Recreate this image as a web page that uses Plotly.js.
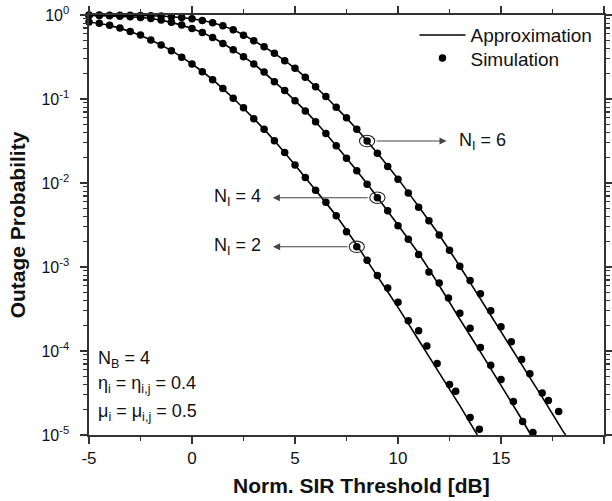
<!DOCTYPE html>
<html><head><meta charset="utf-8">
<script src="https://cdn.plot.ly/plotly-3.0.1.min.js"></script>
<style>body{margin:0;background:#fff}#chart{width:612px;height:501px}</style>
</head><body><div id="chart"></div>
<script>
// Simulation points (x in dB, outage probability)
const simX2 = [-5,-4.5,-4,-3.5,-3,-2.5,-2,-1.5,-1,-0.5,0,0.5,1,1.5,2,2.5,3,3.5,4,4.5,5,5.5,6,6.5,7,7.5,8,8.5,9,9.5,10,10.5,11,11.4,11.9,12.5,12.8,13.5,13.95];
const simP2 = [0.826,0.796,0.753,0.700,0.634,0.578,0.504,0.440,0.376,0.313,
  0.261,0.211,0.170,0.133,0.102,0.0785,0.0583,0.0436,0.0319,0.0230,
  0.0164,0.0116,0.00822,0.00589,0.00407,0.00263,0.00174,0.00120,7.94e-4,5.62e-4,
  3.80e-4,2.29e-4,1.74e-4,1.15e-4,7.08e-5,3.98e-5,3.31e-5,1.62e-5,1.17e-5];

const simX4 = [-5,-4.5,-4,-3.5,-3,-2.5,-2,-1.5,-1,-0.5,0,0.5,1,1.5,2,2.5,3,3.5,4,4.5,5,5.5,6,6.5,7,7.5,8,8.5,9,9.5,10,10.5,11,11.5,12.0,12.45,13.0,13.5,14.0,14.5,15.0,15.6,16.05,16.55];
const simP4 = [0.989,0.984,0.977,0.968,0.955,0.936,0.910,0.871,0.817,0.759,
  0.689,0.617,0.540,0.457,0.385,0.319,0.261,0.209,0.161,0.126,
  0.0955,0.0719,0.0537,0.0389,0.0278,0.0197,0.0140,0.00966,0.00668,0.00468,
  0.00309,0.00214,0.00141,8.71e-4,
  6.46e-4,4.27e-4,2.82e-4,1.86e-4,1.10e-4,6.76e-5,4.57e-5,2.51e-5,1.45e-5,1.07e-5];

const simX6 = [-5,-4.5,-4,-3.5,-3,-2.5,-2,-1.5,-1,-0.5,0,0.5,1,1.5,2,2.5,3,3.5,4,4.5,5,5.5,6,6.5,7,7.5,8,8.5,9,9.5,10,10.5,11,11.5,12,12.5,13,13.5,14,14.5,15,15.5,16.0,16.4,17.0,17.3,17.8];
const simP6 = [0.998,0.997,0.995,0.993,0.991,0.986,0.979,0.970,0.955,0.933,
  0.902,0.861,0.809,0.745,0.668,0.575,0.495,0.420,0.350,0.286,
  0.232,0.181,0.140,0.107,0.0796,0.0600,0.0437,0.0316,0.0226,0.0157,
  0.0111,0.00759,0.00513,0.00355,0.00240,0.00158,0.00102,6.92e-4,4.79e-4,3.02e-4,
  1.95e-4,1.29e-4,
  7.94e-5,5.37e-5,3.16e-5,2.57e-5,1.91e-5];

// Approximation curves
const apxX2 = [-5,-4,-3,-2,-1,0,1,2,3,4,5,6,7,8,9,10,11,12,13,13.85];
const apxP2 = [0.826,0.753,0.634,0.504,0.376,0.261,0.170,0.102,0.0583,0.0319,0.0164,0.00822,0.00407,0.00182,7.76e-4,3.31e-4,1.35e-4,5.50e-5,2.24e-5,1.0e-5];
const apxX4 = [-5,-4,-3,-2,-1,0,1,2,3,4,5,6,7,8,9,10,11,12,13,14,15,16,16.45];
const apxP4 = [0.989,0.977,0.955,0.910,0.817,0.689,0.540,0.385,0.261,0.161,0.0955,0.0537,0.0278,0.0140,0.00676,0.00316,0.00145,6.03e-4,2.40e-4,9.77e-5,3.89e-5,1.55e-5,1.0e-5];
const apxX6 = [-5,-4,-3,-2,-1,0,1,2,3,4,5,6,7,8,9,10,11,12,13,14,15,16,17,18,18.14];
const apxP6 = [0.998,0.995,0.991,0.979,0.955,0.902,0.809,0.668,0.495,0.350,0.232,0.140,0.0796,0.0437,0.0226,0.0112,0.00525,0.00240,0.00102,4.17e-4,1.70e-4,6.92e-5,2.82e-5,1.12e-5,1.0e-5];

const xTicks = [-5,0,5,10,15,20];
const xTickText = ['-5','0','5','10','15','20'];
const yTicks = [1e-5,1e-4,1e-3,1e-2,1e-1,1];
const yTickText = ['10<sup>-5</sup>','10<sup>-4</sup>','10<sup>-3</sup>','10<sup>-2</sup>','10<sup>-1</sup>','10<sup>0</sup>'];

// labelled curves and index of the circled simulation point
const labels = ['N<sub>I</sub> = 2','N<sub>I</sub> = 4','N<sub>I</sub> = 6'];
const circled = [26, 28, 27];

const FONT = 'Arial, "Liberation Sans", Helvetica, sans-serif';
const INK = '#111';

const lineStyle = {color: '#000', width: 1.6, shape: 'spline', smoothing: 0.6};
const mk = {color: '#000', size: 7.5};

const traces = [
  {x: apxX2, y: apxP2, mode: 'lines', line: lineStyle, name: 'Approximation', legend: 'legend', showlegend: true},
  {x: apxX4, y: apxP4, mode: 'lines', line: lineStyle, name: 'Approximation', showlegend: false},
  {x: apxX6, y: apxP6, mode: 'lines', line: lineStyle, name: 'Approximation', showlegend: false},
  {x: simX2, y: simP2, mode: 'markers', marker: mk, name: 'Simulation', legend: 'legend2', showlegend: true, cliponaxis: false},
  {x: simX4, y: simP4, mode: 'markers', marker: mk, name: 'Simulation', showlegend: false, cliponaxis: false},
  {x: simX6, y: simP6, mode: 'markers', marker: mk, name: 'Simulation', showlegend: false, cliponaxis: false}
];

// ellipse half sizes (dB, decades)
const ELL_W = 0.37, ELL_H = 0.068;
const sims = [[simX2, simP2], [simX4, simP4], [simX6, simP6]];
const shapes = [];
sims.forEach((s, k) => {
  const i = circled[k];
  const cx = s[0][i], cp = s[1][i];
  shapes.push({type: 'circle', xref: 'x', yref: 'y',
    x0: cx - ELL_W, x1: cx + ELL_W, y0: cp * Math.pow(10, -ELL_H), y1: cp * Math.pow(10, ELL_H),
    line: {color: '#222', width: 1.1}});
});

const ann = [];
// arrows: [curve index, arrow head x, arrow tail x]
const arrows = [[0, 3.93, 7.62], [1, 3.92, 8.6], [2, 12.36, 8.89]];
arrows.forEach(a => {
  const k = a[0];
  const yl = Math.log10(sims[k][1][circled[k]]);
  ann.push({x: a[1], y: yl, ax: a[2], ay: yl, axref: 'x', ayref: 'y', xref: 'x', yref: 'y',
    text: '', showarrow: true, arrowhead: 2, arrowsize: 1.3, arrowwidth: 1.1, arrowcolor: '#444',
    standoff: 0, startstandoff: 0});
});
// label texts
const labPos = [[3.45, 'right'], [3.45, 'right'], [12.85, 'left']];
labPos.forEach((p, k) => {
  const yl = Math.log10(sims[k][1][circled[k]]);
  ann.push({x: p[0], y: yl, xref: 'x', yref: 'y', xanchor: p[1], yanchor: 'middle',
    text: labels[k], showarrow: false, font: {family: FONT, size: 18, color: INK}});
});
// parameter block
const params = ['N<sub>B</sub> = 4', '&#951;<sub>i</sub> = &#951;<sub>i,j</sub> = 0.4', '&#956;<sub>i</sub> = &#956;<sub>i,j</sub> = 0.5'];
const paramY = [-4.1, -4.4, -4.73];
params.forEach((t, i) => {
  ann.push({x: -4.68, y: paramY[i], xref: 'x', yref: 'y', xanchor: 'left', yanchor: 'middle',
    text: t, showarrow: false, font: {family: FONT, size: 18, color: INK}});
});
// x-axis title
ann.push({x: 0.53, y: -0.12, xref: 'paper', yref: 'paper', xanchor: 'center', yanchor: 'middle',
  text: '<b>Norm. SIR Threshold [dB]</b>', showarrow: false, font: {family: FONT, size: 21, color: INK}});

const minorY = [];
for (let e = -5; e < 0; e++) for (let m = 2; m <= 9; m++) minorY.push(m * Math.pow(10, e));

const axCommon = {showline: true, linecolor: '#333', linewidth: 1.6, mirror: 'ticks', ticks: 'outside',
  tickcolor: '#333', tickwidth: 1.3, showgrid: false, zeroline: false};

const legBase = {xanchor: 'left', yanchor: 'middle', bgcolor: 'rgba(0,0,0,0)',
  font: {family: FONT, size: 19, color: INK}, itemwidth: 46};

const layout = {
  width: 612, height: 501,
  margin: {l: 89, r: 8, t: 15, b: 66},
  paper_bgcolor: '#fff', plot_bgcolor: '#fff',
  font: {family: FONT, color: INK},
  showlegend: true,
  legend: Object.assign({}, legBase, {x: 0.632, y: 0.952}),
  legend2: Object.assign({}, legBase, {x: 0.632, y: 0.897}),
  xaxis: Object.assign({}, axCommon, {range: [-5, 20], tickvals: xTicks, ticktext: xTickText, ticklen: 7,
    tickfont: {family: FONT, size: 17, color: INK},
    minor: {dtick: 2.5, tick0: -5, ticklen: 4, ticks: 'outside', tickcolor: '#333', tickwidth: 1.1}}),
  yaxis: Object.assign({}, axCommon, {type: 'log', range: [-5, 0], tickvals: yTicks, ticktext: yTickText,
    ticklen: 7, ticklabelstandoff: 8, tickfont: {family: FONT, size: 16, color: INK},
    minor: {tickvals: minorY, ticklen: 4, ticks: 'outside', tickcolor: '#333', tickwidth: 1.1},
    title: {text: '<b>Outage Probability</b>', font: {family: FONT, size: 21, color: INK}, standoff: 10}}),
  shapes: shapes,
  annotations: ann
};

Plotly.newPlot('chart', traces, layout, {displayModeBar: false, staticPlot: true});
</script>
</body></html>
